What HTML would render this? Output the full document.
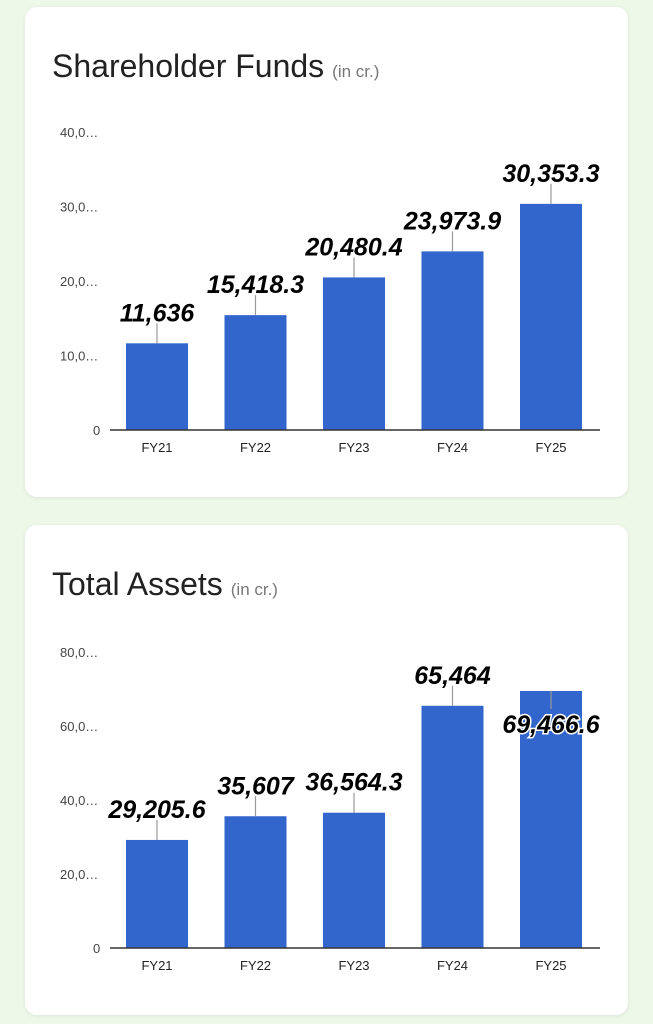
<!DOCTYPE html>
<html><head><meta charset="utf-8"><style>
body{margin:0;width:653px;height:1024px;background:#eef8e8;font-family:"Liberation Sans",sans-serif;overflow:hidden;position:relative}
.card{position:absolute;left:25px;width:603px;height:490px;background:#fff;border-radius:12px;box-shadow:0 1px 4px rgba(0,0,0,.08)}
svg{position:absolute;left:0;top:0}
</style></head><body>
<div class="card" style="top:7px"></div>
<div class="card" style="top:525px"></div>
<svg id="s" width="653" height="1024"></svg>
<script>
const categories=["FY21","FY22","FY23","FY24","FY25"];
const fundsValues=[11636,15418.3,20480.4,23973.9,30353.3];
const fundsLabels=["11,636","15,418.3","20,480.4","23,973.9","30,353.3"];
const fundsTicks=["0","10,0…","20,0…","30,0…","40,0…"];
const assetsValues=[29205.6,35607,36564.3,65464,69466.6];
const assetsLabels=["29,205.6","35,607","36,564.3","65,464","69,466.6"];
const assetsTicks=["0","20,0…","40,0…","60,0…","80,0…"];
const NS="http://www.w3.org/2000/svg";
const svg=document.getElementById('s');
function mk(t,a,txt){const e=document.createElementNS(NS,t);for(const k in a)e.setAttribute(k,a[k]);if(txt!=null)e.textContent=txt;svg.appendChild(e);return e;}
function chart(cfg){
  const t=mk('text',{x:52,y:cfg.titleY,'font-size':32,fill:'#222'});
  
  
  t.textContent=cfg.title;
  const ts=document.createElementNS(NS,'tspan');ts.setAttribute('font-size',17);ts.setAttribute('fill','#777');ts.setAttribute('dx',8);ts.textContent='(in cr.)';t.appendChild(ts);
  const base=cfg.base,h=cfg.h,max=cfg.max;
  const y=v=>base-v/max*h;
  const x=i=>157+i*98.5;
  cfg.ticks.forEach((lab,i)=>{
    const v=max*i/(cfg.ticks.length-1);
    const e=mk('text',{x:i==0?93:60,y:y(v)+5,'font-size':13,fill:'#444'},lab);
    
    
  });
  cfg.values.forEach((v,i)=>{
    const b=mk('rect',{x:x(i)-31,y:y(v),width:62,height:base-y(v),fill:'#3366cc'});
    
    
    const inside=v/max>0.85;
    const ly=inside?y(v)+42:y(v)-22;
    mk('line',{x1:x(i),x2:x(i),y1:y(v),y2:inside?y(v)+18:y(v)-20,stroke:'#999','stroke-width':1.2});
    const l=mk('text',{x:x(i),y:ly,'font-size':25,'font-weight':'bold','font-style':'italic','text-anchor':'middle',fill:'#000',stroke:'#fff','stroke-width':3,'paint-order':'stroke'},cfg.labels[i]);
    
    
    const c=mk('text',{x:x(i),y:base+22,'font-size':13,'text-anchor':'middle',fill:'#222'},categories[i]);
    
    
  });
  mk('line',{x1:110,x2:600,y1:base,y2:base,stroke:'#333','stroke-width':1.5});
}
chart({name:'shareholder-funds',title:'Shareholder Funds',titleY:77,base:430,h:298,max:40000,ticks:fundsTicks,values:fundsValues,labels:fundsLabels});
chart({name:'total-assets',title:'Total Assets',titleY:595,base:948,h:296,max:80000,ticks:assetsTicks,values:assetsValues,labels:assetsLabels});
</script>
</body></html>
